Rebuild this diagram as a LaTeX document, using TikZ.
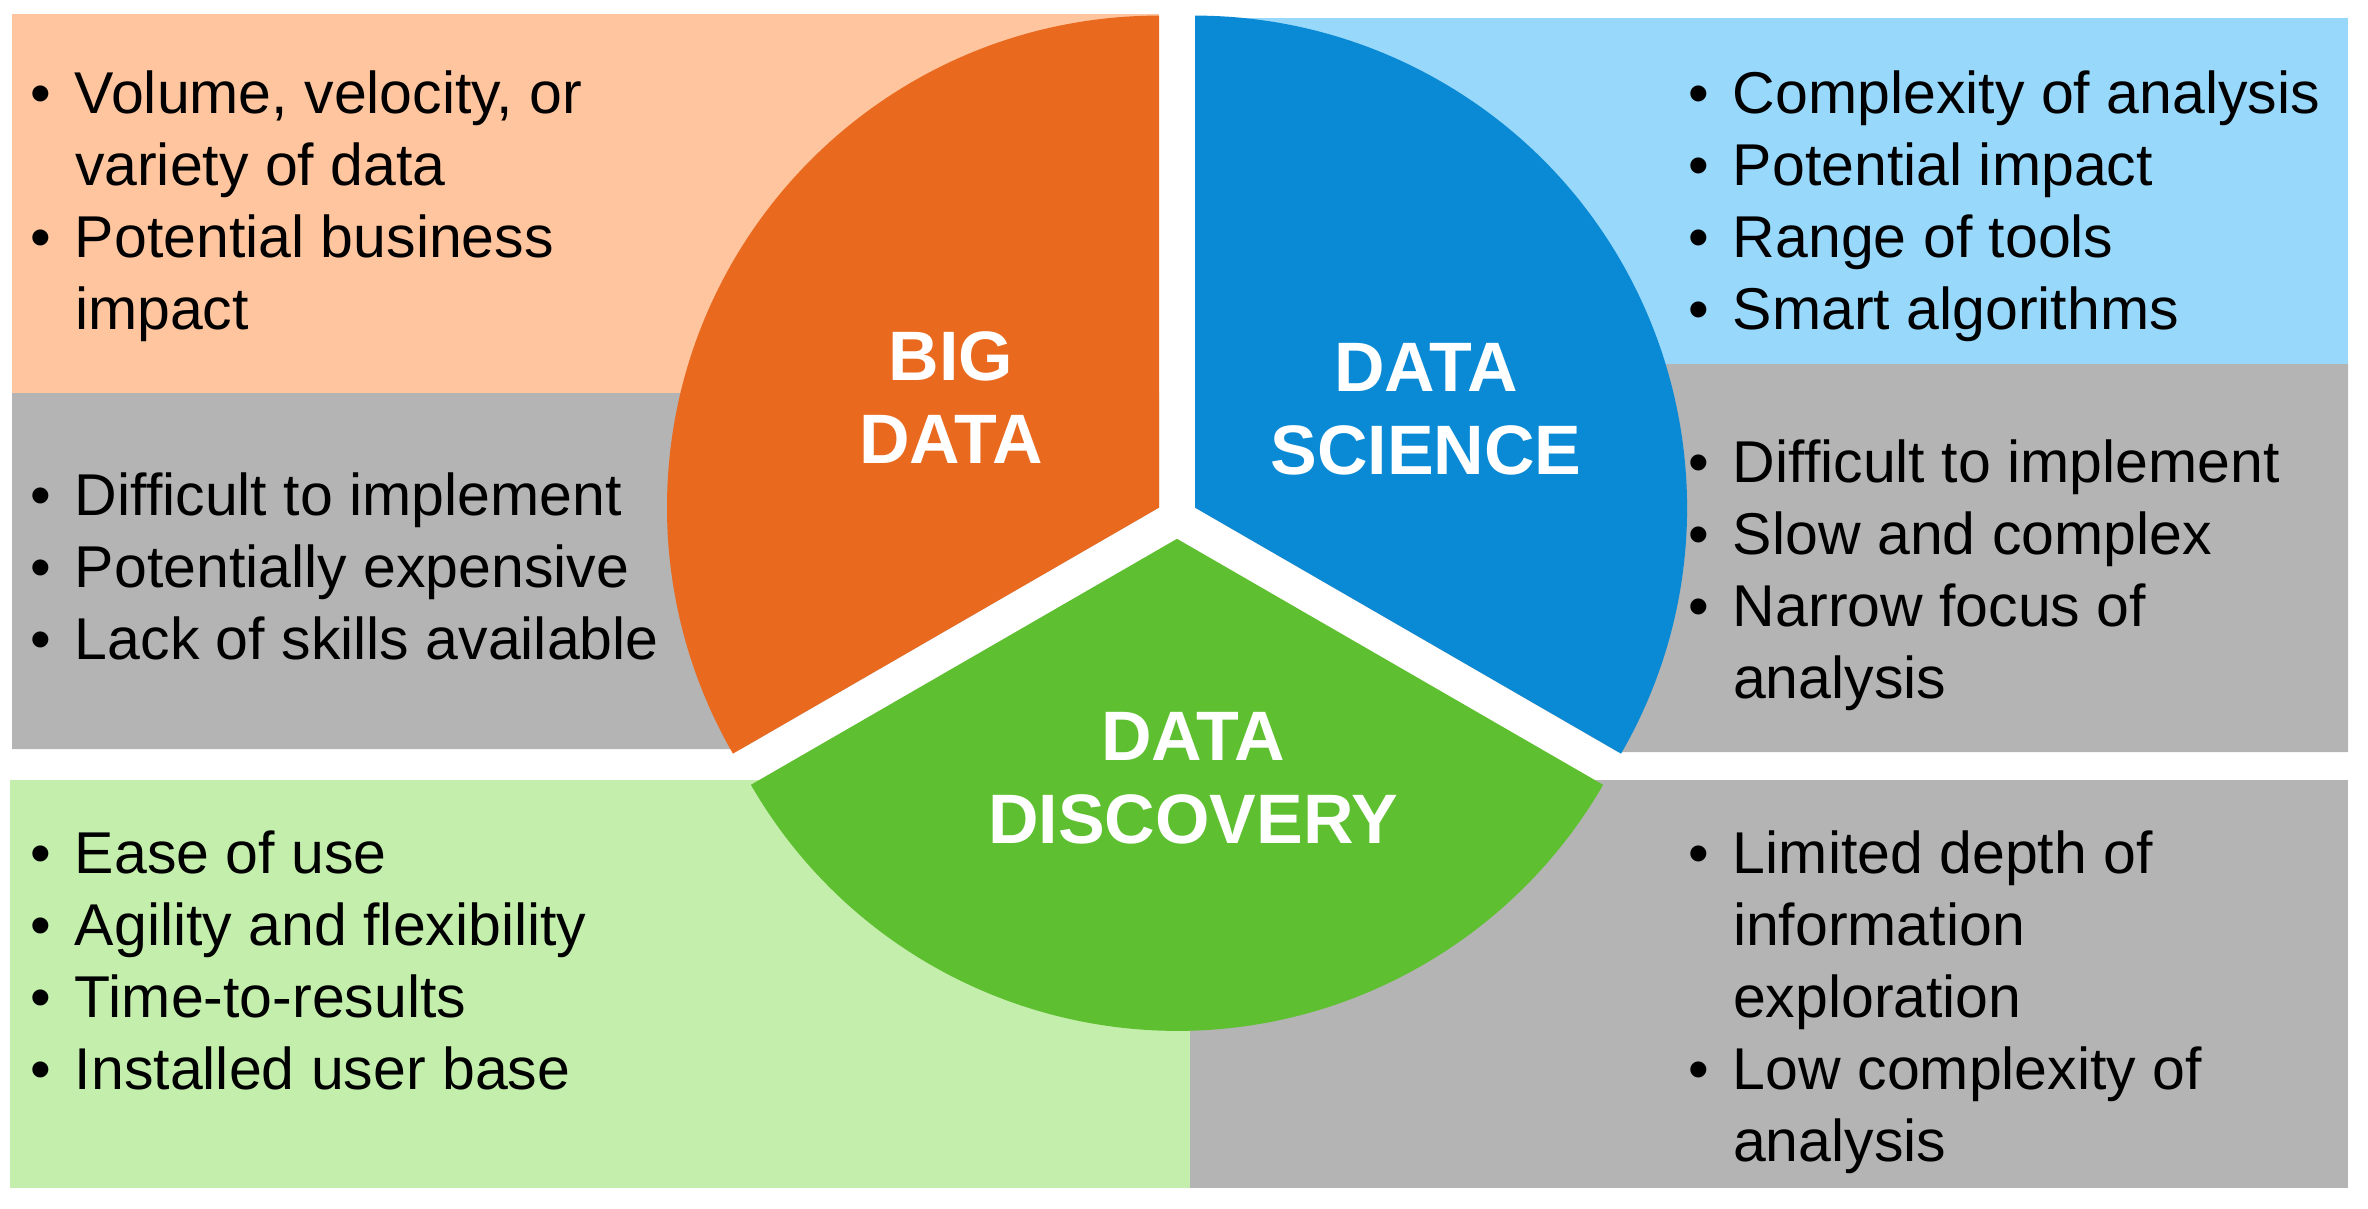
\documentclass[tikz,border=0pt]{standalone}
\usepackage{fontspec}
\setmainfont{Liberation Sans}
\definecolor{sorange}{HTML}{E9691E}
\definecolor{speach}{HTML}{FEC59E}
\definecolor{sblue}{HTML}{0A8AD5}
\definecolor{slblue}{HTML}{97D8FB}
\definecolor{sgreen}{HTML}{5EBF30}
\definecolor{slgreen}{HTML}{C3EEAB}
\definecolor{sgray}{HTML}{B4B4B4}
\newcommand{\bitem}[1]{\par\hangindent=45pt\hangafter=1\noindent\makebox[45pt][l]{\textbullet}#1}
\newcommand{\blist}[1]{\begin{minipage}[t]{640pt}\raggedright#1\end{minipage}}
\begin{document}
\begin{tikzpicture}[x=1pt,y=-1pt,
  listtext/.style={anchor=base west, inner sep=0pt, outer sep=0pt, text=black,
    font=\fontsize{59}{72}\selectfont},
  titletext/.style={anchor=base, inner sep=0pt, outer sep=0pt, text=white,
    font=\fontsize{70}{83}\selectfont\bfseries}]
\useasboundingbox (0,0) rectangle (2368,1208);
\fill[white] (0,0) rectangle (2368,1208);
% background boxes
\fill[speach] (12,14) rectangle (1159,393);
\fill[sgray] (12,393) -- (1159,393) -- (1159,507.6) -- (741,749) -- (12,749) -- cycle;
\fill[slblue] (1195,18) rectangle (2348,364);
\fill[sgray] (1195,364) -- (2348,364) -- (2348,752) -- (1618,752) -- (1195,507.6) -- cycle;
\fill[slgreen] (10,780) rectangle (1190,1188);
\fill[sgray] (1190,780) rectangle (2348,1188);
% pie sectors
\fill[sorange] (1159,507.6) -- ++(-90:492) arc[start angle=-90, end angle=-210, radius=492] -- cycle;
\fill[sblue] (1195,507.6) -- ++(30:492) arc[start angle=30, end angle=-90, radius=492] -- cycle;
\fill[sgreen] (1177,538.8) -- ++(150:492) arc[start angle=150, end angle=30, radius=492] -- cycle;
% titles
\node[titletext] (bigdata) at (951,380) {\begin{tabular}[t]{@{}c@{}}BIG\\DATA\end{tabular}};
\node[titletext] (datascience) at (1426,391) {\begin{tabular}[t]{@{}c@{}}DATA\\SCIENCE\end{tabular}};
\node[titletext] (datadiscovery) at (1193,760) {\begin{tabular}[t]{@{}c@{}}DATA\\DISCOVERY\end{tabular}};
% lists
\node[listtext] (bdpro) at (30,113) {\blist{\bitem{Volume, velocity, or\newline variety of data}\bitem{Potential business\newline impact}}};
\node[listtext] (bdcon) at (30,515) {\blist{\bitem{Difficult to implement}\bitem{Potentially expensive}\bitem{Lack of skills available}}};
\node[listtext] (dspro) at (1688,113) {\blist{\bitem{Complexity of analysis}\bitem{Potential impact}\bitem{Range of tools}\bitem{Smart algorithms}}};
\node[listtext] (dscon) at (1688,482) {\blist{\bitem{Difficult to implement}\bitem{Slow and complex}\bitem{Narrow focus of\newline analysis}}};
\node[listtext] (ddpro) at (30,873) {\blist{\bitem{Ease of use}\bitem{Agility and flexibility}\bitem{Time-to-results}\bitem{Installed user base}}};
\node[listtext] (ddcon) at (1688,873) {\blist{\bitem{Limited depth of\newline information\newline exploration}\bitem{Low complexity of\newline analysis}}};
\end{tikzpicture}
\end{document}
